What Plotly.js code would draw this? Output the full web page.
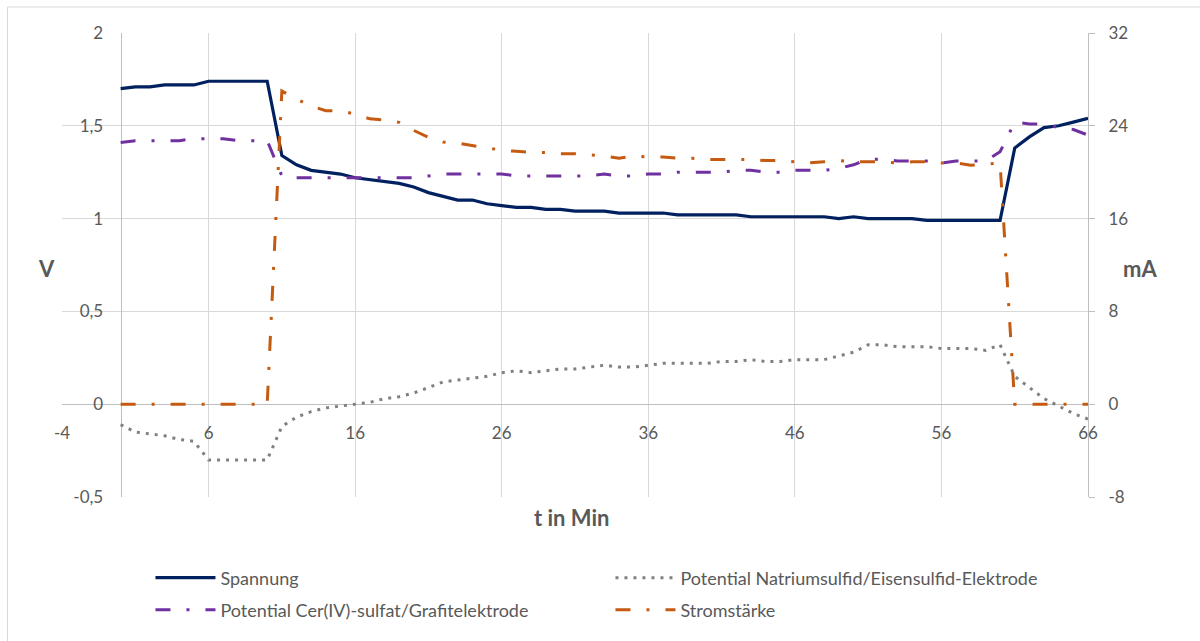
<!DOCTYPE html>
<html>
<head>
<meta charset="utf-8">
<script src="https://cdn.plot.ly/plotly-3.0.1.min.js"></script>
<style>html,body{margin:0;padding:0;background:#fff;}#chart{width:1200px;height:641px;}</style>
</head>
<body>
<div id="chart"></div>
<script>
// time in minutes
const tMin = [0,1,2,3,4,5,6,7,8,9,10,11,12,13,14,15,16,17,18,19,20,21,22,23,24,25,26,27,28,29,30,31,32,33,34,35,36,37,38,39,40,41,42,43,44,45,46,47,48,49,50,51,52,53,54,55,56,57,58,59,60,61,62,63,64,65,66];

// Spannung (V)
const spannung = [1.70,1.71,1.71,1.72,1.72,1.72,1.74,1.74,1.74,1.74,1.74,
  1.34,1.29,1.26,1.25,1.24,1.22,1.21,1.20,1.19,1.17,1.14,
  1.12,1.10,1.10,1.08,1.07,1.06,1.06,1.05,1.05,1.04,1.04,1.04,1.03,1.03,1.03,1.03,1.02,1.02,1.02,1.02,1.02,
  1.01,1.01,1.01,1.01,1.01,1.01,1.00,1.01,1.00,1.00,1.00,1.00,0.99,0.99,0.99,0.99,0.99,0.99,
  1.38,1.44,1.49,1.50,1.52,1.54];

// Potential Natriumsulfid/Eisensulfid-Elektrode (V)
const natrium = [-0.11,-0.15,-0.16,-0.17,-0.19,-0.20,-0.30,-0.30,-0.30,-0.30,-0.30,
  -0.12,-0.07,-0.04,-0.02,-0.01,0.00,0.01,0.03,0.04,0.06,0.09,0.12,
  0.13,0.14,0.15,0.17,0.18,0.17,0.18,0.19,0.19,0.20,0.21,0.20,0.20,0.21,0.22,0.22,0.22,0.22,0.23,0.23,0.24,0.23,0.23,0.24,0.24,0.24,
  0.26,0.28,0.32,0.32,0.31,0.31,0.31,0.30,0.30,0.30,0.29,0.32,
  0.15,0.09,0.03,-0.01,-0.05,-0.08];

// Potential Cer(IV)-sulfat/Grafitelektrode (V)
const cer = [1.41,1.42,1.42,1.42,1.42,1.43,1.43,1.43,1.42,1.42,1.42,
  1.23,1.22,1.22,1.22,1.22,1.22,1.22,1.22,1.22,1.22,1.23,
  1.24,1.24,1.24,1.24,1.24,1.23,1.23,1.23,1.23,1.23,1.23,1.24,1.23,1.23,1.24,1.24,1.25,1.25,1.25,1.25,1.26,
  1.26,1.25,1.25,1.26,1.26,1.26,1.27,1.29,1.32,1.32,1.31,1.31,1.31,1.30,1.31,1.31,1.31,1.36,
  1.52,1.51,1.51,1.49,1.48,1.45];

// Stromstärke (mA)
const strom = [0,0,0,0,0,0,0,0,0,0,0,
  27.0,26.3,25.7,25.3,25.3,25.0,24.6,24.5,24.3,23.6,23.0,
  22.6,22.5,22.3,22.1,21.9,21.8,21.7,21.7,21.6,21.6,21.5,21.4,21.2,21.4,21.3,21.3,21.2,21.2,21.1,21.1,21.1,
  21.1,21.0,21.0,20.9,20.8,20.9,21.0,20.9,20.9,20.9,20.8,20.9,20.9,20.8,20.8,20.6,20.7,20.8,
  0,0,0,0,0,0];

const seriesNames = ['Spannung','Potential Natriumsulfid/Eisensulfid-Elektrode','Potential Cer(IV)-sulfat/Grafitelektrode','Stromstärke'];

const xTicks = [-4,6,16,26,36,46,56,66];
const xTickText = ['-4','6','16','26','36','46','56','66'];
const yTicks = [-0.5,0,0.5,1,1.5,2];
const yTickText = ['-0,5','0','0,5','1','1,5','2'];
const y2Ticks = [-8,0,8,16,24,32];
const y2TickText = ['-8','0','8','16','24','32'];

const dashDot = '15px,16px,3px,16px';

const traces = [
  {x:tMin, y:spannung, name:seriesNames[0], type:'scatter', mode:'lines', line:{color:'#002060', width:3.2}, legend:'legend'},
  {x:tMin, y:natrium, name:seriesNames[1], type:'scatter', mode:'lines', line:{color:'#808080', width:3, dash:'3px,6px'}, legend:'legend'},
  {x:tMin, y:cer, name:seriesNames[2], type:'scatter', mode:'lines', line:{color:'#7030A0', width:3, dash:dashDot}, legend:'legend2'},
  {x:tMin, y:strom, name:seriesNames[3], type:'scatter', mode:'lines', yaxis:'y2', line:{color:'#C55A11', width:3, dash:dashDot}, legend:'legend2'}
];

const L = 61.5, R = 1088, T = 33, B = 497;
const W = R - L, H = B - T;
const px2x = p => (p - L) / W;
const py2y = p => (B - p) / H;

const gridCol = '#d9d9d9';
const axisCol = '#bfbfbf';
const txtCol = '#595959';
const fontFam = 'Lato, "Open Sans", sans-serif';

const legendBase = {orientation:'h', xanchor:'left', yanchor:'middle',
  entrywidth:385, entrywidthmode:'pixels', itemwidth:60, bgcolor:'rgba(0,0,0,0)',
  font:{family:fontFam, size:18, color:txtCol}};

const layout = {
  width:1200, height:641,
  margin:{l:L, r:1200-R, t:T, b:641-B, pad:0},
  paper_bgcolor:'#ffffff', plot_bgcolor:'#ffffff',
  separators:', ',
  font:{family:fontFam, size:17, color:txtCol},
  showlegend:true,
  xaxis:{range:[-4,66], tickmode:'array', tickvals:xTicks, ticktext:xTickText,
    showgrid:true, gridcolor:gridCol, gridwidth:1, zeroline:false,
    showline:true, linecolor:axisCol, linewidth:1, layer:'below traces',
    anchor:'free', position:py2y(404), ticks:'', ticklabelstandoff:14,
    tickfont:{family:fontFam, size:17, color:txtCol}, fixedrange:true},
  yaxis:{range:[-0.5,2], tickmode:'array', tickvals:yTicks, ticktext:yTickText,
    showgrid:true, gridcolor:gridCol, gridwidth:1, zeroline:false,
    showline:true, linecolor:axisCol, linewidth:1, layer:'below traces',
    anchor:'free', position:4/70, ticks:'', ticklabelstandoff:14,
    tickfont:{family:fontFam, size:17, color:txtCol}, fixedrange:true},
  yaxis2:{overlaying:'y', side:'right', anchor:'x', range:[-8,32], tickmode:'array', tickvals:y2Ticks, ticktext:y2TickText,
    showgrid:false, zeroline:false, showline:true, linecolor:axisCol, linewidth:1, layer:'below traces',
    ticks:'outside', ticklen:6, tickcolor:axisCol, ticklabelstandoff:10,
    tickfont:{family:fontFam, size:17, color:txtCol}, fixedrange:true},
  legend:Object.assign({}, legendBase, {x:px2x(150), y:py2y(578)}),
  legend2:Object.assign({}, legendBase, {x:px2x(150), y:py2y(610)}),
  annotations:[
    {text:'<b>V</b>', xref:'paper', yref:'paper', x:px2x(46), y:py2y(268), xanchor:'center', yanchor:'middle', showarrow:false, font:{family:fontFam, size:22, color:txtCol}},
    {text:'<b>mA</b>', xref:'paper', yref:'paper', x:px2x(1140), y:py2y(268), xanchor:'center', yanchor:'middle', showarrow:false, font:{family:fontFam, size:22, color:txtCol}},
    {text:'<b>t in Min</b>', xref:'paper', yref:'paper', x:px2x(572), y:py2y(517), xanchor:'center', yanchor:'middle', showarrow:false, font:{family:fontFam, size:22, color:txtCol}}
  ],
  shapes:[
    {type:'rect', xref:'paper', yref:'paper', x0:px2x(7), x1:px2x(1215), y0:py2y(655), y1:py2y(7), line:{color:gridCol, width:1}, fillcolor:'rgba(0,0,0,0)', layer:'below'}
  ]
};

Plotly.newPlot('chart', traces, layout, {displayModeBar:false, staticPlot:true});
</script>
</body>
</html>
